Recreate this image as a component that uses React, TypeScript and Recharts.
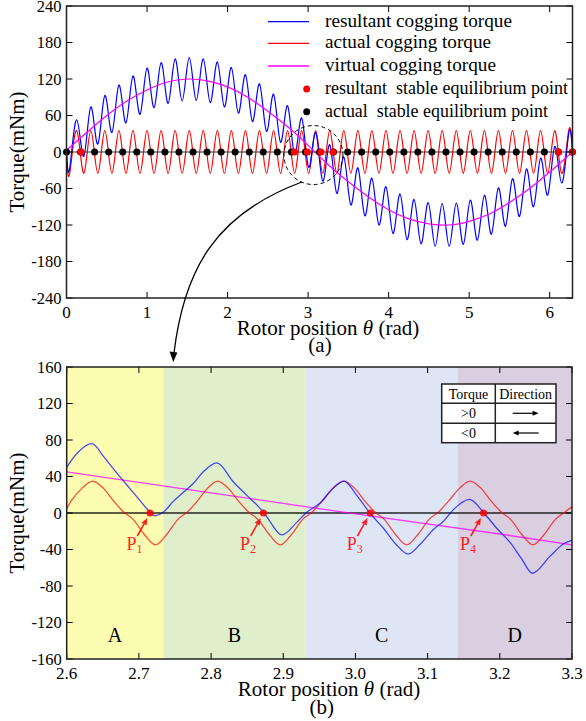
import React from "react";
import {
  ComposedChart,
  Line,
  Scatter,
  XAxis,
  YAxis,
  ReferenceLine,
  ReferenceArea,
  ReferenceDot,
} from "recharts";

const FONT = '"Liberation Serif", "Times New Roman", Times, serif';

// ---- (a) one full turn, 0 .. 2π ----
// extremes of the cogging ripple (trough, peak, trough, ...) plus both ends
const topTheta = [
  0, 0.04, 0.127, 0.215, 0.302, 0.389, 0.476, 0.564, 0.651, 0.738, 0.825, 0.913, 1.0, 1.087, 1.175, 1.262,
  1.349, 1.436, 1.524, 1.611, 1.698, 1.785, 1.873, 1.96, 2.047, 2.134, 2.222, 2.309, 2.396, 2.484, 2.571,
  2.658, 2.745, 2.833, 2.92, 3.007, 3.094, 3.182, 3.269, 3.356, 3.443, 3.531, 3.618, 3.705, 3.792, 3.88,
  3.967, 4.054, 4.142, 4.229, 4.316, 4.403, 4.491, 4.578, 4.665, 4.752, 4.84, 4.927, 5.014, 5.102, 5.189,
  5.276, 5.363, 5.451, 5.538, 5.625, 5.712, 5.8, 5.887, 5.974, 6.062, 6.149, 6.236, 6.283,
];
const topActual = [
  0, -35, 35, -35, 35, -35, 35, -35, 35, -35, 35, -35, 35, -35, 35, -35, 35, -35, 35, -35, 35, -35, 35, -35,
  35, -35, 35, -35, 35, -35, 35, -35, 35, -35, 35, -35, 35, -35, 35, -35, 35, -35, 35, -35, 35, -35, 35, -35,
  35, -35, 35, -35, 35, -35, 35, -35, 35, -35, 35, -35, 35, -35, 35, -35, 35, -35, 35, -35, 35, -35, 35, -35,
  35, 0,
];
const topResultant = [
  3, -27, 53, -7, 74, 13, 93, 32, 110, 48, 125, 62, 138, 73, 147, 80, 153, 84, 155, 85, 153, 81, 148, 74, 139,
  64, 127, 50, 112, 34, 95, 16, 76, -4, 56, -25, 32, -48, 12, -68, -8, -87, -26, -105, -43, -120, -57, -134,
  -69, -144, -78, -151, -83, -155, -85, -155, -84, -152, -79, -145, -71, -135, -59, -122, -44, -106, -28, -90,
  -10, -71, 9, -51, 30, 0,
];
const topVirtualTheta = [
  0, 0.25, 0.5, 0.75, 1.0, 1.25, 1.5, 1.75, 2.0, 2.25, 2.5, 2.75, 3.0, 3.25, 3.5, 3.75, 4.0, 4.25, 4.5, 4.75,
  5.0, 5.25, 5.5, 5.75, 6.0, 6.283,
];
const topVirtual = [
  3, 32, 60, 84, 102, 115, 120, 117, 107, 90, 67, 41, 11, -21, -49, -74, -95, -110, -118, -120, -114, -102,
  -83, -60, -33, 0,
];
const topActualStable = [
  0, 0.175, 0.349, 0.524, 0.698, 0.873, 1.047, 1.222, 1.396, 1.571, 1.745, 1.92, 2.094, 2.269, 2.443, 2.618,
  2.793, 2.967, 3.142, 3.316, 3.491, 3.665, 3.84, 4.014, 4.189, 4.363, 4.538, 4.712, 4.887, 5.061, 5.236,
  5.411, 5.585, 5.76, 5.934, 6.109, 6.283,
];
const topResultantStable = [0.18, 2.83, 2.99, 3.16, 3.31, 6.11, 6.28];
const topXTicks = [0, 1, 2, 3, 4, 5, 6];
const topYTicks = [-240, -180, -120, -60, 0, 60, 120, 180, 240];
const zoomWindow = { t: 3.066, y: -5 };
const legendLabels = [
  "resultant cogging torque",
  "actual cogging torque",
  "virtual cogging torque",
  "resultant  stable equilibrium point",
  "actual  stable equilibrium point",
];

// ---- (b) close-up, 2.6 .. 3.3 rad ----
const zoomActualTheta = [
  2.6, 2.606, 2.621, 2.636, 2.651, 2.665, 2.679, 2.692, 2.707, 2.723, 2.739, 2.754, 2.767, 2.781, 2.795, 2.809,
  2.824, 2.838, 2.852, 2.865, 2.88, 2.896, 2.912, 2.927, 2.94, 2.954, 2.969, 2.984, 2.999, 3.013, 3.027, 3.04,
  3.055, 3.071, 3.087, 3.102, 3.115, 3.129, 3.144, 3.159, 3.174, 3.188, 3.202, 3.215, 3.23, 3.246, 3.262,
  3.277, 3.29, 3.3,
];
const zoomActual = [
  5, 13, 27, 35, 27, 13, 1, -7, -23, -35, -23, -7, 1, 13, 27, 35, 27, 13, 1, -7, -23, -35, -23, -7, 1, 13, 27,
  35, 27, 13, 1, -7, -23, -35, -23, -7, 1, 13, 27, 35, 27, 13, 1, -7, -23, -35, -23, -7, 1, 7,
];
const zoomResultantTheta = [
  2.6, 2.615, 2.635, 2.651, 2.665, 2.683, 2.697, 2.713, 2.722, 2.734, 2.748, 2.762, 2.775, 2.789, 2.808, 2.831,
  2.85, 2.868, 2.877, 2.898, 2.919, 2.933, 2.951, 2.97, 2.984, 3.002, 3.02, 3.039, 3.057, 3.073, 3.09, 3.108,
  3.122, 3.136, 3.158, 3.178, 3.196, 3.215, 3.23, 3.245, 3.27, 3.288, 3.3,
];
const zoomResultant = [
  50, 66, 76, 62, 48, 31, 18, 3, -3, 1, 13, 23, 32, 45, 55, 34, 19, 5, -4, -24, -10, 1, 11, 28, 35, 19, 0, -17,
  -35, -45, -34, -18, -9, 4, 15, 0, -17, -33, -50, -66, -47, -34, -30,
];
const zoomVirtualTheta = [2.6, 2.8, 3.0, 3.2, 3.3];
const zoomVirtual = [45, 22, -1, -23, -35];
const zoomStableTheta = [2.7155, 2.8725, 3.0204, 3.1775];
const zoomStableNames = ["1", "2", "3", "4"];
const regionEdges = [2.6, 2.734, 2.931, 3.1416, 3.3];
const regionNames = ["A", "B", "C", "D"];
const regionFills = ["#fdfdb2", "#dfeecb", "#dee6f5", "#d9cfe1"];
const zoomXTicks = [2.6, 2.7, 2.8, 2.9, 3.0, 3.1, 3.2, 3.3];
const zoomYTicks = [-160, -120, -80, -40, 0, 40, 80, 120, 160];
const tableRows = [
  ["Torque", "Direction"],
  [">0", "right"],
  ["<0", "left"],
];

const pts = (xs: number[], ys: number[]) => xs.map((t, i) => ({ t, y: ys[i] }));

// inward ticks on all four sides, labels outside
const xTick = (plotTop: number, fmt: (v: number) => string) => (p: any) => (
  <g>
    <line x1={p.x} x2={p.x} y1={p.y} y2={p.y - 6} stroke="#000" />
    <line x1={p.x} x2={p.x} y1={plotTop} y2={plotTop + 6} stroke="#000" />
    <text x={p.x} y={p.y + 19.5} textAnchor="middle" fontSize={17} fontFamily={FONT} fill="#000">
      {fmt(p.payload.value)}
    </text>
  </g>
);
const yTick = (plotRight: number) => (p: any) => (
  <g>
    <line x1={p.x} x2={p.x + 6} y1={p.y} y2={p.y} stroke="#000" />
    <line x1={plotRight} x2={plotRight - 6} y1={p.y} y2={p.y} stroke="#000" />
    <text x={p.x - 5} y={p.y + 5.6} textAnchor="end" fontSize={16.5} fontFamily={FONT} fill="#000">
      {p.payload.value}
    </text>
  </g>
);

const dot = (color: string) => (p: any) => <circle cx={p.cx} cy={p.cy} r={3.5} fill={color} />;

const StablePoint = (p: any) => {
  const { cx, cy } = p;
  const x1 = cx - 12.7, y1 = cy + 23, x2 = cx - 2.7, y2 = cy + 5;
  const a = Math.atan2(y2 - y1, x2 - x1);
  const bx = x2 - 7 * Math.cos(a), by = y2 - 7 * Math.sin(a);
  const ox = -Math.sin(a) * 3, oy = Math.cos(a) * 3;
  return (
    <g opacity={0.85}>
      <line x1={x1} y1={y1} x2={bx} y2={by} stroke="#ff0000" strokeWidth={1.6} />
      <polygon points={`${x2},${y2} ${bx + ox},${by + oy} ${bx - ox},${by - oy}`} fill="#ff0000" />
      <circle cx={cx} cy={cy} r={3.6} fill="#ff0000" />
      <text x={cx - 23.5} y={cy + 36.5} fill="#ff0000" fontSize={18} fontFamily={FONT}>
        P
        <tspan fontSize={12} dy={3}>
          {p.payload.name}
        </tspan>
      </text>
    </g>
  );
};

function FullTurnChart() {
  return (
    <ComposedChart width={586} height={360} margin={{ top: 6, right: 13.5, bottom: 32, left: 6.5 }}
      style={{ overflow: "visible" }}>
      <XAxis
        type="number"
        dataKey="t"
        domain={[0, 6.2832]}
        ticks={topXTicks}
        interval={0}
        height={30}
        tickSize={0}
        tickMargin={0}
        tickLine={false}
        axisLine={false}
        tick={xTick(6, (v) => String(v))}
      />
      <YAxis
        type="number"
        dataKey="y"
        domain={[-240, 240]}
        ticks={topYTicks}
        interval={0}
        width={60}
        tickSize={0}
        tickMargin={0}
        tickLine={false}
        axisLine={false}
        tick={yTick(572.5)}
      />
      <Line data={pts(topTheta, topActual)} dataKey="y" type="natural" stroke="#ff0000" strokeWidth={1.2}
        dot={false} activeDot={false} isAnimationActive={false} />
      <Line data={pts(topTheta, topResultant)} dataKey="y" type="natural" stroke="#0000ff" strokeWidth={1.2}
        dot={false} activeDot={false} isAnimationActive={false} />
      <Line data={pts(topVirtualTheta, topVirtual)} dataKey="y" type="natural" stroke="#ff00ff" strokeWidth={1.2}
        dot={false} activeDot={false} isAnimationActive={false} />
      <ReferenceLine y={0} stroke="#333" strokeWidth={1} />
      <Scatter data={topActualStable.map((t) => ({ t, y: 0 }))} dataKey="y" shape={dot("#000")} isAnimationActive={false} />
      <Scatter data={topResultantStable.map((t) => ({ t, y: 0 }))} dataKey="y" shape={dot("#ff0000")} isAnimationActive={false} />
      <ReferenceDot x={zoomWindow.t} y={zoomWindow.y} r={29.5} fill="none" stroke="#000" strokeWidth={1}
        strokeDasharray="4 3" />
    </ComposedChart>
  );
}

function CloseUpChart() {
  return (
    <ComposedChart width={586} height={361} margin={{ top: 7, right: 14, bottom: 32, left: 6.7 }}
      style={{ overflow: "visible" }}>
      <XAxis
        type="number"
        dataKey="t"
        domain={[2.6, 3.3]}
        ticks={zoomXTicks}
        interval={0}
        height={30}
        tickSize={0}
        tickMargin={0}
        tickLine={false}
        axisLine={false}
        tick={xTick(7, (v) => v.toFixed(1))}
      />
      <YAxis
        type="number"
        dataKey="y"
        domain={[-160, 160]}
        ticks={zoomYTicks}
        interval={0}
        width={60}
        tickSize={0}
        tickMargin={0}
        tickLine={false}
        axisLine={false}
        tick={yTick(572)}
      />
      {regionNames.map((name, i) => (
        <ReferenceArea
          key={name}
          x1={regionEdges[i]}
          x2={regionEdges[i + 1]}
          y1={-160}
          y2={160}
          fill={regionFills[i]}
          fillOpacity={1}
          stroke="none"
          label={{ value: name, position: "insideBottom", offset: 17, fontSize: 20, fill: "#000", fontFamily: FONT }}
        />
      ))}
      <ReferenceLine y={0} stroke="#000" strokeOpacity={0.85} strokeWidth={1.5} />
      <Line data={pts(zoomVirtualTheta, zoomVirtual)} dataKey="y" type="linear" stroke="#ff00ff" strokeOpacity={0.75}
        strokeWidth={1.3} dot={false} activeDot={false} isAnimationActive={false} />
      <Line data={pts(zoomActualTheta, zoomActual)} dataKey="y" type="monotone" stroke="#ff0000" strokeOpacity={0.7}
        strokeWidth={1.3} dot={false} activeDot={false} isAnimationActive={false} />
      <Line data={pts(zoomResultantTheta, zoomResultant)} dataKey="y" type="monotone" stroke="#0000ff"
        strokeOpacity={0.7} strokeWidth={1.3} dot={false} activeDot={false} isAnimationActive={false} />
      <Scatter
        data={zoomStableTheta.map((t, i) => ({ t, y: 0, name: zoomStableNames[i] }))}
        dataKey="y"
        shape={StablePoint}
        isAnimationActive={false}
      />
    </ComposedChart>
  );
}

const legendRowY = [21.7, 43.3, 66, 89, 111.7];
const legendTextWidth = [187, 166, 171, 243, 223];
const legendColors = ["#0000ff", "#ff0000", "#ff00ff", "#ff0000", "#000000"];

function Overlay() {
  const colX = [441.7, 495.3, 556];
  const rowY = [384, 403.3, 423.3, 442.7];
  return (
    <svg width={586} height={721} style={{ position: "absolute", left: 0, top: 0, pointerEvents: "none" }}
      fontFamily={FONT}>
      <rect x={66.5} y={6} width={506} height={292} fill="none" stroke="#222" strokeWidth={1.5} />
      <rect x={66.7} y={367} width={505.3} height={292} fill="none" stroke="#222" strokeWidth={1.5} />

      {legendLabels.map((label, i) => (
        <g key={label}>
          {i < 3 ? (
            <line x1={268} x2={309} y1={legendRowY[i]} y2={legendRowY[i]} stroke={legendColors[i]} strokeWidth={1.3} />
          ) : (
            <circle cx={306.7} cy={legendRowY[i]} r={3.5} fill={legendColors[i]} />
          )}
          <text x={325} y={legendRowY[i] + 5} fontSize={18.5} fill="#000" style={{ whiteSpace: "pre" }}
            textLength={legendTextWidth[i]} lengthAdjust="spacingAndGlyphs">
            {label}
          </text>
        </g>
      ))}

      <path d="M 302 182 C 215 214 184 270 174 353" fill="none" stroke="#000" strokeWidth={1.3} />
      <polygon points="173.3,362 169.6,351.5 177.4,352.5" fill="#000" />

      <text x={328} y={334.5} textAnchor="middle" fontSize={21} fill="#000">
        Rotor position <tspan fontStyle="italic">θ</tspan> (rad)
      </text>
      <text x={320} y={352} textAnchor="middle" fontSize={21} fill="#000">(a)</text>
      <text x={329} y={696} textAnchor="middle" fontSize={21} fill="#000">
        Rotor position <tspan fontStyle="italic">θ</tspan> (rad)
      </text>
      <text x={321.7} y={714} textAnchor="middle" fontSize={21} fill="#000">(b)</text>
      <text x={24} y={152} transform="rotate(-90 24 152)" textAnchor="middle" fontSize={21} fill="#000">
        Torque(mNm)
      </text>
      <text x={24} y={513} transform="rotate(-90 24 513)" textAnchor="middle" fontSize={21} fill="#000">
        Torque(mNm)
      </text>

      <rect x={colX[0]} y={rowY[0]} width={colX[2] - colX[0]} height={rowY[3] - rowY[0]} fill="#fff" stroke="#222"
        strokeWidth={1.5} />
      <line x1={colX[0]} x2={colX[2]} y1={rowY[1]} y2={rowY[1]} stroke="#222" strokeWidth={1.5} />
      <line x1={colX[0]} x2={colX[2]} y1={rowY[2]} y2={rowY[2]} stroke="#222" strokeWidth={1.5} />
      <line x1={colX[1]} x2={colX[1]} y1={rowY[0]} y2={rowY[3]} stroke="#222" strokeWidth={1.5} />
      {tableRows.map((row, r) => {
        const yMid = (rowY[r] + rowY[r + 1]) / 2;
        const c1 = (colX[0] + colX[1]) / 2;
        const c2 = (colX[1] + colX[2]) / 2;
        return (
          <g key={r}>
            <text x={c1} y={yMid + 5} textAnchor="middle" fontSize={14} fill="#000">{row[0]}</text>
            {r === 0 ? (
              <text x={c2} y={yMid + 5} textAnchor="middle" fontSize={14} fill="#000">{row[1]}</text>
            ) : row[1] === "right" ? (
              <g>
                <line x1={c2 - 13} x2={c2 + 9} y1={yMid} y2={yMid} stroke="#000" strokeWidth={1.2} />
                <polygon points={`${c2 + 13},${yMid} ${c2 + 7},${yMid - 2.5} ${c2 + 7},${yMid + 2.5}`} fill="#000" />
              </g>
            ) : (
              <g>
                <line x1={c2 - 9} x2={c2 + 13} y1={yMid} y2={yMid} stroke="#000" strokeWidth={1.2} />
                <polygon points={`${c2 - 13},${yMid} ${c2 - 7},${yMid - 2.5} ${c2 - 7},${yMid + 2.5}`} fill="#000" />
              </g>
            )}
          </g>
        );
      })}
    </svg>
  );
}

export default function App() {
  return (
    <div style={{ position: "absolute", left: 0, top: 0, width: 586, height: 721, background: "#fff", fontFamily: FONT }}>
      <div style={{ position: "absolute", left: 0, top: 0 }}>
        <FullTurnChart />
      </div>
      <div style={{ position: "absolute", left: 0, top: 360 }}>
        <CloseUpChart />
      </div>
      <Overlay />
    </div>
  );
}
